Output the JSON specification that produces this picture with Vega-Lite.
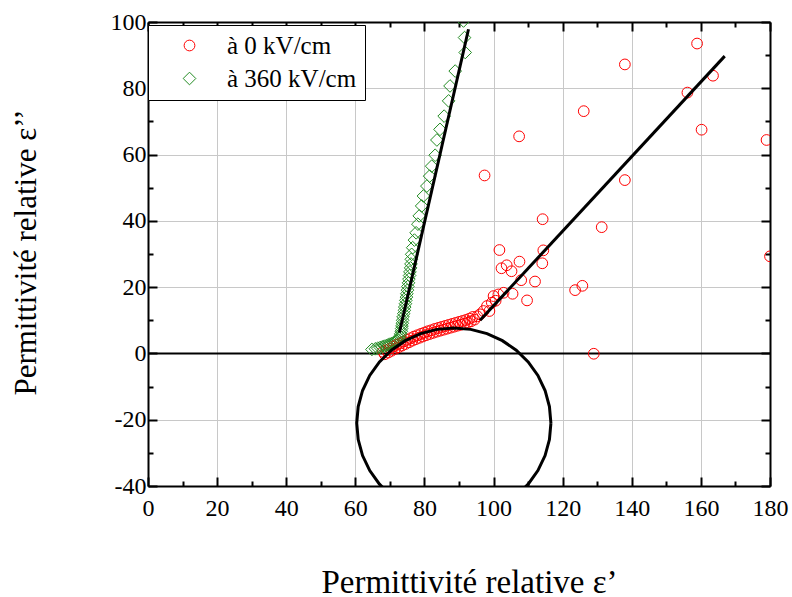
{
  "$schema": "https://vega.github.io/schema/vega-lite/v6.json",
  "width": 622,
  "height": 464,
  "autosize": {"type": "none"},
  "padding": {"left": 148, "top": 22, "right": 22, "bottom": 111},
  "background": "white",
  "config": {"view": {"stroke": null}, "font": "Liberation Serif"},
  "datasets": {
    "pts": [
      {"series": "à 0 kV/cm", "x": 68, "y": 0.5}, {"series": "à 0 kV/cm", "x": 68.5, "y": -0.25},
      {"series": "à 0 kV/cm", "x": 69, "y": 1.0}, {"series": "à 0 kV/cm", "x": 69.5, "y": 0.25},
      {"series": "à 0 kV/cm", "x": 70, "y": 1.5}, {"series": "à 0 kV/cm", "x": 70.5, "y": 0.8},
      {"series": "à 0 kV/cm", "x": 71, "y": 2.1}, {"series": "à 0 kV/cm", "x": 71.5, "y": 1.35},
      {"series": "à 0 kV/cm", "x": 72, "y": 2.6}, {"series": "à 0 kV/cm", "x": 72.5, "y": 1.85},
      {"series": "à 0 kV/cm", "x": 73, "y": 3.1}, {"series": "à 0 kV/cm", "x": 73.5, "y": 2.35},
      {"series": "à 0 kV/cm", "x": 74, "y": 3.6}, {"series": "à 0 kV/cm", "x": 74.5, "y": 2.85},
      {"series": "à 0 kV/cm", "x": 75, "y": 4.1}, {"series": "à 0 kV/cm", "x": 75.5, "y": 3.35},
      {"series": "à 0 kV/cm", "x": 76, "y": 4.6}, {"series": "à 0 kV/cm", "x": 76.5, "y": 3.85},
      {"series": "à 0 kV/cm", "x": 77, "y": 5.1}, {"series": "à 0 kV/cm", "x": 77.5, "y": 4.3},
      {"series": "à 0 kV/cm", "x": 78, "y": 5.5}, {"series": "à 0 kV/cm", "x": 78.5, "y": 4.7},
      {"series": "à 0 kV/cm", "x": 79, "y": 5.9}, {"series": "à 0 kV/cm", "x": 79.5, "y": 5.1},
      {"series": "à 0 kV/cm", "x": 80, "y": 6.3}, {"series": "à 0 kV/cm", "x": 80.5, "y": 5.5},
      {"series": "à 0 kV/cm", "x": 81, "y": 6.7}, {"series": "à 0 kV/cm", "x": 81.5, "y": 5.85},
      {"series": "à 0 kV/cm", "x": 82, "y": 7.0}, {"series": "à 0 kV/cm", "x": 82.5, "y": 6.2},
      {"series": "à 0 kV/cm", "x": 83, "y": 7.4}, {"series": "à 0 kV/cm", "x": 83.5, "y": 6.55},
      {"series": "à 0 kV/cm", "x": 84, "y": 7.7}, {"series": "à 0 kV/cm", "x": 84.5, "y": 6.85},
      {"series": "à 0 kV/cm", "x": 85, "y": 8.0}, {"series": "à 0 kV/cm", "x": 85.5, "y": 7.15},
      {"series": "à 0 kV/cm", "x": 86, "y": 8.3}, {"series": "à 0 kV/cm", "x": 86.5, "y": 7.45},
      {"series": "à 0 kV/cm", "x": 87, "y": 8.6}, {"series": "à 0 kV/cm", "x": 87.5, "y": 7.75},
      {"series": "à 0 kV/cm", "x": 88, "y": 8.9}, {"series": "à 0 kV/cm", "x": 88.5, "y": 8.05},
      {"series": "à 0 kV/cm", "x": 89, "y": 9.2}, {"series": "à 0 kV/cm", "x": 89.5, "y": 8.35},
      {"series": "à 0 kV/cm", "x": 90, "y": 9.5}, {"series": "à 0 kV/cm", "x": 90.5, "y": 8.65},
      {"series": "à 0 kV/cm", "x": 91, "y": 9.8}, {"series": "à 0 kV/cm", "x": 91.5, "y": 8.95},
      {"series": "à 0 kV/cm", "x": 92, "y": 10.1}, {"series": "à 0 kV/cm", "x": 92.5, "y": 9.3},
      {"series": "à 0 kV/cm", "x": 93, "y": 10.5}, {"series": "à 0 kV/cm", "x": 93.5, "y": 9.7},
      {"series": "à 0 kV/cm", "x": 94, "y": 11.0}, {"series": "à 0 kV/cm", "x": 94.5, "y": 10.2},
      {"series": "à 0 kV/cm", "x": 95.3, "y": 11.2}, {"series": "à 0 kV/cm", "x": 96.1, "y": 11.8},
      {"series": "à 0 kV/cm", "x": 97.1, "y": 12.8}, {"series": "à 0 kV/cm", "x": 98.1, "y": 14.3},
      {"series": "à 0 kV/cm", "x": 98.8, "y": 12.8}, {"series": "à 0 kV/cm", "x": 99.5, "y": 15.3},
      {"series": "à 0 kV/cm", "x": 100.0, "y": 17.3}, {"series": "à 0 kV/cm", "x": 100.6, "y": 15.9},
      {"series": "à 0 kV/cm", "x": 101.4, "y": 17.8}, {"series": "à 0 kV/cm", "x": 102.9, "y": 18.3},
      {"series": "à 0 kV/cm", "x": 105.5, "y": 18.0}, {"series": "à 0 kV/cm", "x": 109.7, "y": 16.0},
      {"series": "à 0 kV/cm", "x": 108.0, "y": 22.1}, {"series": "à 0 kV/cm", "x": 112.0, "y": 21.7},
      {"series": "à 0 kV/cm", "x": 105.2, "y": 24.8}, {"series": "à 0 kV/cm", "x": 102.3, "y": 25.7},
      {"series": "à 0 kV/cm", "x": 103.8, "y": 26.6}, {"series": "à 0 kV/cm", "x": 107.5, "y": 27.7},
      {"series": "à 0 kV/cm", "x": 114.1, "y": 27.2}, {"series": "à 0 kV/cm", "x": 114.4, "y": 31.1},
      {"series": "à 0 kV/cm", "x": 101.7, "y": 31.2}, {"series": "à 0 kV/cm", "x": 125.7, "y": 20.4},
      {"series": "à 0 kV/cm", "x": 123.6, "y": 19.1}, {"series": "à 0 kV/cm", "x": 129.0, "y": -0.1},
      {"series": "à 0 kV/cm", "x": 114.2, "y": 40.5}, {"series": "à 0 kV/cm", "x": 131.3, "y": 38.1},
      {"series": "à 0 kV/cm", "x": 180.0, "y": 29.3}, {"series": "à 0 kV/cm", "x": 97.4, "y": 53.7},
      {"series": "à 0 kV/cm", "x": 138.0, "y": 52.3}, {"series": "à 0 kV/cm", "x": 107.4, "y": 65.5},
      {"series": "à 0 kV/cm", "x": 160.2, "y": 67.5}, {"series": "à 0 kV/cm", "x": 179.0, "y": 64.4},
      {"series": "à 0 kV/cm", "x": 126.1, "y": 73.1}, {"series": "à 0 kV/cm", "x": 156.1, "y": 78.7},
      {"series": "à 0 kV/cm", "x": 163.5, "y": 83.8}, {"series": "à 0 kV/cm", "x": 138.0, "y": 87.2},
      {"series": "à 0 kV/cm", "x": 158.9, "y": 93.5},
      {"series": "à 360 kV/cm", "x": 64.8, "y": 1.2}, {"series": "à 360 kV/cm", "x": 65.8, "y": 1.4},
      {"series": "à 360 kV/cm", "x": 66.5, "y": 1.6}, {"series": "à 360 kV/cm", "x": 67.2, "y": 1.8},
      {"series": "à 360 kV/cm", "x": 67.8, "y": 2.0}, {"series": "à 360 kV/cm", "x": 68.4, "y": 2.2},
      {"series": "à 360 kV/cm", "x": 69.0, "y": 2.4}, {"series": "à 360 kV/cm", "x": 69.5, "y": 2.6},
      {"series": "à 360 kV/cm", "x": 70.0, "y": 2.8}, {"series": "à 360 kV/cm", "x": 70.5, "y": 3.0},
      {"series": "à 360 kV/cm", "x": 71.0, "y": 3.2}, {"series": "à 360 kV/cm", "x": 71.5, "y": 3.4},
      {"series": "à 360 kV/cm", "x": 72.0, "y": 3.7}, {"series": "à 360 kV/cm", "x": 72.4, "y": 4.1},
      {"series": "à 360 kV/cm", "x": 72.7, "y": 4.6}, {"series": "à 360 kV/cm", "x": 72.9, "y": 5.2},
      {"series": "à 360 kV/cm", "x": 73.1, "y": 5.9}, {"series": "à 360 kV/cm", "x": 73.3, "y": 6.7},
      {"series": "à 360 kV/cm", "x": 73.4, "y": 7.5}, {"series": "à 360 kV/cm", "x": 73.5, "y": 8.3},
      {"series": "à 360 kV/cm", "x": 73.6, "y": 9.1}, {"series": "à 360 kV/cm", "x": 73.7, "y": 10.0},
      {"series": "à 360 kV/cm", "x": 73.8, "y": 11.0}, {"series": "à 360 kV/cm", "x": 74.0, "y": 12.0},
      {"series": "à 360 kV/cm", "x": 74.2, "y": 13.0}, {"series": "à 360 kV/cm", "x": 74.3, "y": 14.0},
      {"series": "à 360 kV/cm", "x": 74.5, "y": 15.0}, {"series": "à 360 kV/cm", "x": 74.6, "y": 16.0},
      {"series": "à 360 kV/cm", "x": 74.8, "y": 17.0}, {"series": "à 360 kV/cm", "x": 74.9, "y": 18.0},
      {"series": "à 360 kV/cm", "x": 75.1, "y": 19.1}, {"series": "à 360 kV/cm", "x": 75.2, "y": 20.2},
      {"series": "à 360 kV/cm", "x": 75.4, "y": 21.3}, {"series": "à 360 kV/cm", "x": 75.5, "y": 22.4},
      {"series": "à 360 kV/cm", "x": 75.7, "y": 23.5}, {"series": "à 360 kV/cm", "x": 75.8, "y": 24.6},
      {"series": "à 360 kV/cm", "x": 76.0, "y": 25.8}, {"series": "à 360 kV/cm", "x": 76.1, "y": 27.0},
      {"series": "à 360 kV/cm", "x": 76.2, "y": 28.4}, {"series": "à 360 kV/cm", "x": 76.3, "y": 29.9},
      {"series": "à 360 kV/cm", "x": 76.6, "y": 31.9}, {"series": "à 360 kV/cm", "x": 77.1, "y": 34.2},
      {"series": "à 360 kV/cm", "x": 77.6, "y": 36.4}, {"series": "à 360 kV/cm", "x": 78.1, "y": 39.0},
      {"series": "à 360 kV/cm", "x": 78.5, "y": 41.5}, {"series": "à 360 kV/cm", "x": 79.2, "y": 44.5},
      {"series": "à 360 kV/cm", "x": 79.7, "y": 47.5}, {"series": "à 360 kV/cm", "x": 80.7, "y": 50.5},
      {"series": "à 360 kV/cm", "x": 81.5, "y": 53.5}, {"series": "à 360 kV/cm", "x": 82.1, "y": 56.5},
      {"series": "à 360 kV/cm", "x": 83.1, "y": 59.8}, {"series": "à 360 kV/cm", "x": 83.6, "y": 64.4},
      {"series": "à 360 kV/cm", "x": 84.5, "y": 67.6}, {"series": "à 360 kV/cm", "x": 85.7, "y": 71.6},
      {"series": "à 360 kV/cm", "x": 87.0, "y": 76.2}, {"series": "à 360 kV/cm", "x": 87.4, "y": 80.7},
      {"series": "à 360 kV/cm", "x": 88.9, "y": 85.2}, {"series": "à 360 kV/cm", "x": 91.8, "y": 90.8},
      {"series": "à 360 kV/cm", "x": 91.6, "y": 95.3}, {"series": "à 360 kV/cm", "x": 91.3, "y": 100.3}
    ],
    "circ": [
      {"i": 0, "x": 116.6, "y": -21}, {"i": 1, "x": 116.17, "y": -16.02}, {"i": 2, "x": 114.91, "y": -11.18},
      {"i": 3, "x": 112.83, "y": -6.65}, {"i": 4, "x": 110.02, "y": -2.55}, {"i": 5, "x": 106.56, "y": 0.98},
      {"i": 6, "x": 102.55, "y": 3.85}, {"i": 7, "x": 98.11, "y": 5.97}, {"i": 8, "x": 93.38, "y": 7.26},
      {"i": 9, "x": 88.5, "y": 7.7}, {"i": 10, "x": 83.62, "y": 7.26}, {"i": 11, "x": 78.89, "y": 5.97},
      {"i": 12, "x": 74.45, "y": 3.85}, {"i": 13, "x": 70.44, "y": 0.98}, {"i": 14, "x": 66.98, "y": -2.55},
      {"i": 15, "x": 64.17, "y": -6.65}, {"i": 16, "x": 62.09, "y": -11.18}, {"i": 17, "x": 60.83, "y": -16.02},
      {"i": 18, "x": 60.4, "y": -21}, {"i": 19, "x": 60.83, "y": -25.98}, {"i": 20, "x": 62.09, "y": -30.82},
      {"i": 21, "x": 64.17, "y": -35.35}, {"i": 22, "x": 66.98, "y": -39.45}, {"i": 23, "x": 70.44, "y": -42.98},
      {"i": 24, "x": 74.45, "y": -45.85}, {"i": 25, "x": 78.89, "y": -47.97}, {"i": 26, "x": 83.62, "y": -49.26},
      {"i": 27, "x": 88.5, "y": -49.7}, {"i": 28, "x": 93.38, "y": -49.26}, {"i": 29, "x": 98.11, "y": -47.97},
      {"i": 30, "x": 102.55, "y": -45.85}, {"i": 31, "x": 106.56, "y": -42.98}, {"i": 32, "x": 110.02, "y": -39.45},
      {"i": 33, "x": 112.83, "y": -35.35}, {"i": 34, "x": 114.91, "y": -30.82}, {"i": 35, "x": 116.17, "y": -25.98},
      {"i": 36, "x": 116.6, "y": -21}
    ],
    "fits": [
      {"fit": "g", "x": 72.75, "y": 6.3}, {"fit": "g", "x": 92.75, "y": 97.8},
      {"fit": "r", "x": 96.1, "y": 10.0}, {"fit": "r", "x": 166.9, "y": 89.7}
    ],
    "zero": [{"y": 0}]
  },
  "resolve": {"axis": {"x": "independent", "y": "independent"}},
  "layer": [
    {
      "data": {"name": "zero"},
      "mark": {"type": "rule", "color": "black", "strokeWidth": 2},
      "encoding": {
        "y": {"field": "y", "type": "quantitative", "scale": {"domain": [-40, 100], "nice": false, "zero": false}, "axis": null}
      }
    },
    {
      "data": {"name": "pts"},
      "mark": {"type": "point", "filled": false, "clip": true, "strokeWidth": 1, "opacity": 1},
      "encoding": {
        "x": {
          "field": "x", "type": "quantitative",
          "scale": {"domain": [0, 180], "nice": false, "zero": false},
          "axis": {
            "orient": "bottom", "values": [0, 20, 40, 60, 80, 100, 120, 140, 160, 180],
            "grid": true, "gridColor": "#c8c8c8", "gridWidth": 1,
            "domainColor": "black", "domainWidth": 2,
            "tickColor": "black", "tickWidth": 2, "tickSize": -9,
            "labelFont": "Liberation Serif", "labelFontSize": 24, "labelColor": "black",
            "labelPadding": 19, "labelFlush": false, "labelOverlap": false,
            "labelExpr": "'' + datum.value",
            "title": "Permittivité relative ε’", "titleFont": "Liberation Serif", "titleFontSize": 33,
            "titleFontWeight": "normal", "titleColor": "black",
            "titleX": 321, "titleY": 106, "titleBaseline": "alphabetic", "titleAlign": "center"
          }
        },
        "y": {
          "field": "y", "type": "quantitative",
          "scale": {"domain": [-40, 100], "nice": false, "zero": false},
          "axis": {
            "orient": "left", "values": [-40, -20, 0, 20, 40, 60, 80, 100],
            "grid": true, "gridColor": "#c8c8c8", "gridWidth": 1,
            "domainColor": "black", "domainWidth": 2,
            "tickColor": "black", "tickWidth": 2, "tickSize": -9,
            "labelFont": "Liberation Serif", "labelFontSize": 24, "labelColor": "black",
            "labelPadding": 11, "labelFlush": false, "labelOverlap": false,
            "labelExpr": "'' + datum.value",
            "title": "Permittivité relative ε’’", "titleFont": "Liberation Serif", "titleFontSize": 31,
            "titleFontWeight": "normal", "titleColor": "black",
            "titleX": -113, "titleY": 230, "titleAngle": 270, "titleBaseline": "alphabetic", "titleAlign": "center"
          }
        },
        "color": {
          "field": "series", "type": "nominal",
          "scale": {"domain": ["à 0 kV/cm", "à 360 kV/cm"], "range": ["#ff0000", "#228b22"]},
          "legend": {
            "title": null, "orient": "none", "legendX": 0, "legendY": 3, "direction": "vertical",
            "strokeColor": "black", "fillColor": "white", "padding": 8,
            "labelFont": "Liberation Serif", "labelFontSize": 25, "labelColor": "black", "labelLimit": 400,
            "rowPadding": 7, "symbolOffset": 21, "labelOffset": 25, "symbolStrokeWidth": 1
          }
        },
        "shape": {
          "field": "series", "type": "nominal",
          "scale": {"domain": ["à 0 kV/cm", "à 360 kV/cm"], "range": ["circle", "diamond"]},
          "legend": {
            "title": null, "orient": "none", "legendX": 0, "legendY": 3, "direction": "vertical",
            "strokeColor": "black", "fillColor": "white", "padding": 8,
            "labelFont": "Liberation Serif", "labelFontSize": 25, "labelColor": "black", "labelLimit": 400,
            "rowPadding": 7, "symbolOffset": 21, "labelOffset": 25, "symbolStrokeWidth": 1
          }
        },
        "size": {
          "field": "series", "type": "nominal",
          "scale": {"domain": ["à 0 kV/cm", "à 360 kV/cm"], "range": [115, 160]},
          "legend": {
            "title": null, "orient": "none", "legendX": 0, "legendY": 3, "direction": "vertical",
            "strokeColor": "black", "fillColor": "white", "padding": 8,
            "labelFont": "Liberation Serif", "labelFontSize": 25, "labelColor": "black", "labelLimit": 400,
            "rowPadding": 7, "symbolOffset": 21, "labelOffset": 25, "symbolStrokeWidth": 1
          }
        }
      }
    },
    {
      "data": {"name": "circ"},
      "mark": {"type": "line", "color": "black", "strokeWidth": 3, "clip": true},
      "encoding": {
        "x": {
          "field": "x", "type": "quantitative",
          "scale": {"domain": [0, 180], "nice": false, "zero": false},
          "axis": {
            "orient": "bottom", "values": [10, 30, 50, 70, 90, 110, 130, 150, 170],
            "labels": false, "domain": false, "grid": false,
            "tickColor": "black", "tickWidth": 2, "tickSize": -5, "title": null
          }
        },
        "y": {
          "field": "y", "type": "quantitative",
          "scale": {"domain": [-40, 100], "nice": false, "zero": false},
          "axis": {
            "orient": "left", "values": [-30, -10, 10, 30, 50, 70, 90],
            "labels": false, "domain": false, "grid": false,
            "tickColor": "black", "tickWidth": 2, "tickSize": -5, "title": null
          }
        },
        "order": {"field": "i", "type": "quantitative"}
      }
    },
    {
      "data": {"name": "fits"},
      "transform": [{"filter": "datum.fit == 'g'"}],
      "mark": {"type": "line", "color": "black", "strokeWidth": 3, "clip": true},
      "encoding": {
        "x": {
          "field": "x", "type": "quantitative",
          "scale": {"domain": [0, 180], "nice": false, "zero": false},
          "axis": {
            "orient": "top", "values": [0, 20, 40, 60, 80, 100, 120, 140, 160, 180],
            "labels": false, "domain": true, "domainColor": "black", "domainWidth": 2, "grid": false,
            "tickColor": "black", "tickWidth": 2, "tickSize": -9, "title": null
          }
        },
        "y": {
          "field": "y", "type": "quantitative",
          "scale": {"domain": [-40, 100], "nice": false, "zero": false},
          "axis": {
            "orient": "right", "values": [-40, -20, 0, 20, 40, 60, 80, 100],
            "labels": false, "domain": true, "domainColor": "black", "domainWidth": 2, "grid": false,
            "tickColor": "black", "tickWidth": 2, "tickSize": -9, "title": null
          }
        }
      }
    },
    {
      "data": {"name": "fits"},
      "transform": [{"filter": "datum.fit == 'r'"}],
      "mark": {"type": "line", "color": "black", "strokeWidth": 3, "clip": true},
      "encoding": {
        "x": {
          "field": "x", "type": "quantitative",
          "scale": {"domain": [0, 180], "nice": false, "zero": false},
          "axis": {
            "orient": "top", "values": [10, 30, 50, 70, 90, 110, 130, 150, 170],
            "labels": false, "domain": false, "grid": false,
            "tickColor": "black", "tickWidth": 2, "tickSize": -5, "title": null
          }
        },
        "y": {
          "field": "y", "type": "quantitative",
          "scale": {"domain": [-40, 100], "nice": false, "zero": false},
          "axis": {
            "orient": "right", "values": [-30, -10, 10, 30, 50, 70, 90],
            "labels": false, "domain": false, "grid": false,
            "tickColor": "black", "tickWidth": 2, "tickSize": -5, "title": null
          }
        }
      }
    }
  ]
}
